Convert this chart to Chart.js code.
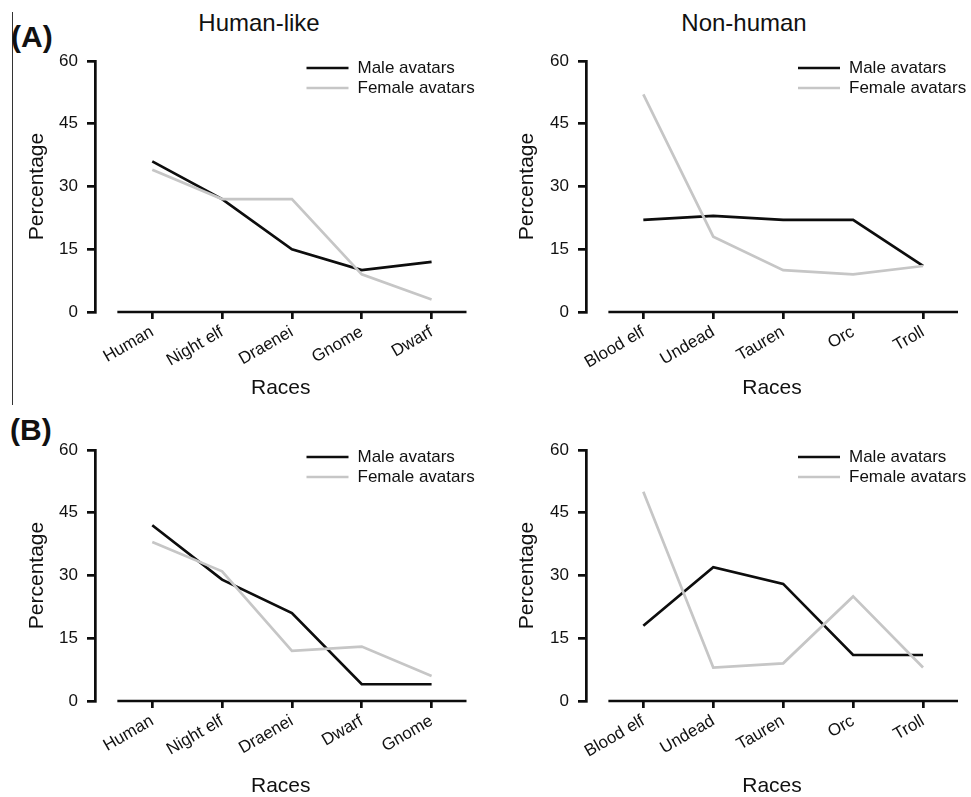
<!DOCTYPE html>
<html>
<head>
<meta charset="utf-8">
<script src="https://cdn.jsdelivr.net/npm/chart.js@4/dist/chart.umd.min.js"></script>
<style>
  html, body { margin: 0; padding: 0; background: #fff; }
  body { position: relative; width: 971px; height: 797px; overflow: hidden; font-family: "Liberation Sans", Arial, sans-serif; color: #1a1a1a; }
  canvas { position: absolute; }
  .panel { position: absolute; font-weight: bold; font-size: 30px; line-height: 30px; white-space: nowrap; color: #111; }
  .title { position: absolute; font-size: 24px; line-height: 24px; width: 240px; text-align: center; white-space: nowrap; color: #111; }
  #vline { position: absolute; left: 12px; top: 12px; width: 1px; height: 393px; background: #333; }
</style>
</head>
<body>
<div id="vline"></div>
<div class="panel" style="left:11px;top:22px">(A)</div>
<div class="panel" style="left:10px;top:415px">(B)</div>
<div class="title" style="left:139px;top:11px">Human-like</div>
<div class="title" style="left:624px;top:11px">Non-human</div>

<canvas id="cAL" width="490" height="399" style="left:0;top:0"></canvas>
<canvas id="cAR" width="481" height="399" style="left:490px;top:0"></canvas>
<canvas id="cBL" width="490" height="408" style="left:0;top:389px"></canvas>
<canvas id="cBR" width="481" height="408" style="left:490px;top:389px"></canvas>

<script>
// ---- Data ----
const seriesNames = ['Male avatars', 'Female avatars'];
const yTicks = [0, 15, 30, 45, 60];

const humanRacesA = ['Human', 'Night elf', 'Draenei', 'Gnome', 'Dwarf'];
const humanMaleA = [36, 27, 15, 10, 12];
const humanFemaleA = [34, 27, 27, 9, 3];

const nonHumanRacesA = ['Blood elf', 'Undead', 'Tauren', 'Orc', 'Troll'];
const nonHumanMaleA = [22, 23, 22, 22, 11];
const nonHumanFemaleA = [52, 18, 10, 9, 11];

const humanRacesB = ['Human', 'Night elf', 'Draenei', 'Dwarf', 'Gnome'];
const humanMaleB = [42, 29, 21, 4, 4];
const humanFemaleB = [38, 31, 12, 13, 6];

const nonHumanRacesB = ['Blood elf', 'Undead', 'Tauren', 'Orc', 'Troll'];
const nonHumanMaleB = [18, 32, 28, 11, 11];
const nonHumanFemaleB = [50, 8, 9, 25, 8];

// ---- Styling ----
const FONT = '"Liberation Sans", Arial, sans-serif';
const INK = '#111111';
const MALE_COLOR = '#0d0d0d';
const FEMALE_COLOR = '#c6c6c6';
const LW = 2.7;

// x-axis baseline (detached from the y axis, Prism style)
const xAxisLine = {
  id: 'xAxisLine',
  beforeDatasetsDraw(chart) {
    const { ctx, chartArea, scales } = chart;
    const yy = scales.y.getPixelForValue(0);
    ctx.save();
    ctx.strokeStyle = MALE_COLOR;
    ctx.lineWidth = LW;
    ctx.beginPath();
    ctx.moveTo(scales.x.getPixelForValue(-0.5), yy);
    ctx.lineTo(chartArea.right, yy);
    ctx.stroke();
    ctx.restore();
  }
};

// legend inside the plot, top-right
const lineLegend = {
  id: 'lineLegend',
  afterDraw(chart) {
    const { ctx, chartArea } = chart;
    const x0 = chartArea.right - 160;
    chart.data.datasets.forEach((ds, i) => {
      const y = chartArea.top + 7 + i * 20;
      ctx.save();
      ctx.strokeStyle = ds.borderColor;
      ctx.lineWidth = ds.borderWidth;
      ctx.beginPath();
      ctx.moveTo(x0, y);
      ctx.lineTo(x0 + 42, y);
      ctx.stroke();
      ctx.fillStyle = INK;
      ctx.font = '17px ' + FONT;
      ctx.textBaseline = 'middle';
      ctx.textAlign = 'left';
      ctx.fillText(ds.label, x0 + 51, y);
      ctx.restore();
    });
  }
};

function makeChart(id, races, male, female, axisLeft, areaRight) {
  const canvas = document.getElementById(id);
  const W = canvas.width, H = canvas.height;
  return new Chart(canvas, {
    type: 'line',
    data: {
      datasets: [
        { label: seriesNames[0], data: male.map((v, i) => ({ x: i, y: v })),
          borderColor: MALE_COLOR, backgroundColor: MALE_COLOR, borderWidth: LW, order: 1 },
        { label: seriesNames[1], data: female.map((v, i) => ({ x: i, y: v })),
          borderColor: FEMALE_COLOR, backgroundColor: FEMALE_COLOR, borderWidth: LW, order: 0 }
      ]
    },
    options: {
      responsive: false,
      animation: false,
      devicePixelRatio: 1,
      layout: { padding: { left: 0, top: 61, right: W - areaRight, bottom: 0 } },
      elements: { point: { radius: 0, hoverRadius: 0 }, line: { tension: 0, fill: false } },
      plugins: { legend: { display: false }, tooltip: { enabled: false }, title: { display: false } },
      scales: {
        x: {
          type: 'linear',
          min: -0.82,
          max: 4.5,
          afterBuildTicks: (s) => { s.ticks = races.map((r, i) => ({ value: i })); },
          afterFit: (s) => { s.height = H - 312; },
          border: { display: false },
          grid: { drawOnChartArea: false, drawTicks: true, tickLength: 7, lineWidth: LW, color: MALE_COLOR },
          ticks: {
            autoSkip: false, minRotation: 30, maxRotation: 30, padding: 3, color: INK,
            font: { family: FONT, size: 17 },
            callback: (v) => races[v]
          },
          title: { display: true, text: 'Races', color: INK, font: { family: FONT, size: 21, lineHeight: 1 }, padding: { top: 0, bottom: 0 } }
        },
        y: {
          min: yTicks[0],
          max: yTicks[yTicks.length - 1],
          afterBuildTicks: (s) => { s.ticks = yTicks.map(v => ({ value: v })); },
          afterFit: (s) => { s.width = axisLeft; },
          border: { display: true, width: LW, color: MALE_COLOR },
          grid: { drawOnChartArea: false, drawTicks: true, tickLength: 8, lineWidth: LW, color: MALE_COLOR },
          ticks: { padding: 9, color: INK, font: { family: FONT, size: 17 } },
          title: { display: true, text: 'Percentage', color: INK, font: { family: FONT, size: 21, lineHeight: 1 }, padding: { top: 26.5, bottom: 0 } }
        }
      }
    },
    plugins: [xAxisLine, lineLegend]
  });
}

makeChart('cAL', humanRacesA, humanMaleA, humanFemaleA, 95, 466.5);
makeChart('cAR', nonHumanRacesA, nonHumanMaleA, nonHumanFemaleA, 96, 468);
makeChart('cBL', humanRacesB, humanMaleB, humanFemaleB, 95, 466.5);
makeChart('cBR', nonHumanRacesB, nonHumanMaleB, nonHumanFemaleB, 96, 468);
</script>
</body>
</html>
